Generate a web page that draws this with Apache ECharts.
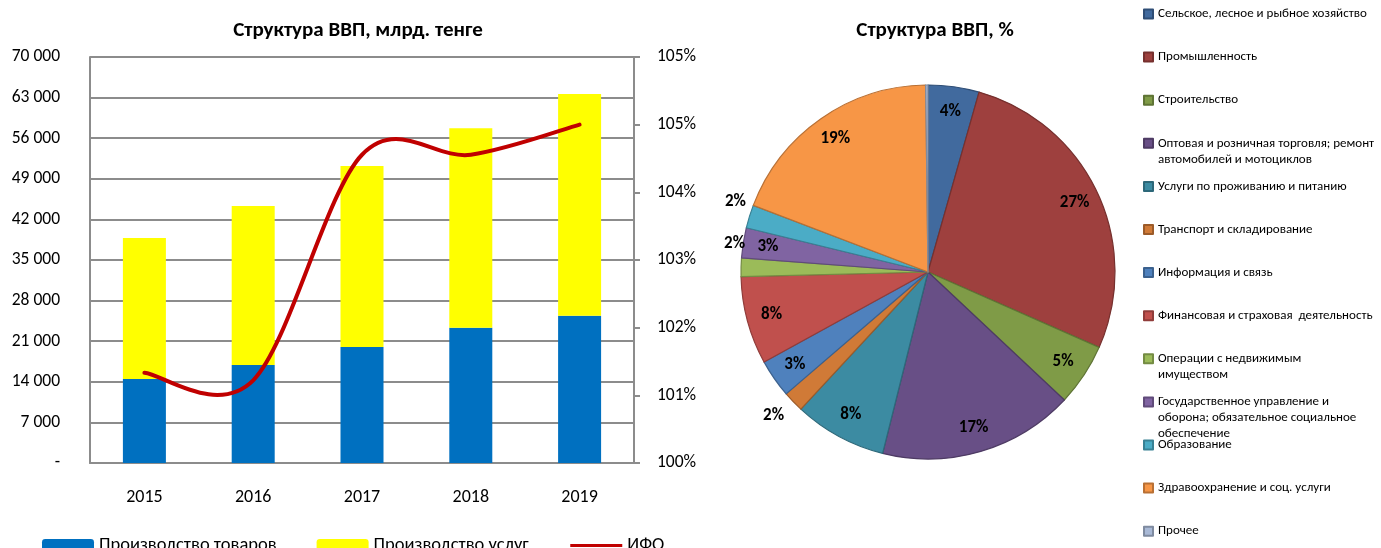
<!DOCTYPE html>
<html lang="ru">
<head>
    <meta charset="UTF-8">
    <title>Структура ВВП</title>
    <script src="https://cdn.jsdelivr.net/npm/echarts@6/dist/echarts.min.js"></script>
    <style>
        html, body { margin: 0; padding: 0; background: #fff; }
        #chart { width: 1381px; height: 548px; }
    </style>
</head>
<body>
    <div id="chart"></div>
    <script>
        // данные: левая диаграмма
        const years = ['2015', '2016', '2017', '2018', '2019'];
        const goods = [14500, 16900, 20000, 23300, 25400];      // Производство товаров
        const services = [24300, 27400, 31200, 34400, 38200];   // Производство услуг
        const ifo = [101.2, 101.1, 104.1, 104.1, 104.5];        // ИФО, %

        // данные: структура ВВП, %
        const sectors = [
            'Сельское, лесное и рыбное хозяйство',
            'Промышленность',
            'Строительство',
            'Оптовая и розничная торговля; ремонт\nавтомобилей и мотоциклов',
            'Услуги по проживанию и питанию',
            'Транспорт и складирование',
            'Информация и связь',
            'Финансовая и страховая  деятельность',
            'Операции с недвижимым\nимуществом',
            'Государственное управление и\nоборона; обязательное социальное\nобеспечение',
            'Образование',
            'Здравоохранение и соц. услуги',
            'Прочее'
        ];
        const shares = [4.4, 27.2, 5.4, 16.9, 8.0, 1.8, 3.3, 7.6, 1.6, 2.6, 2.0, 19.0, 0.2];

        // оформление
        const pieColors = ['#416A9E', '#9E403E', '#7F9B47', '#684F86', '#3C8BA2', '#D07A37',
                           '#4F81BD', '#C0504D', '#9BBB59', '#8064A2', '#4BACC6', '#F79646', '#A9B9D6'];
        const pieBorders = ['#2F4E76', '#76302E', '#5F7435', '#4E3B64', '#2D6879', '#9C5B29',
                            '#3B618E', '#903C3A', '#748C43', '#604B7A', '#388194', '#B97034', '#7F8BA0'];
        const outsideLabel = [5, 8, 10];   // мелкие сектора с подписью снаружи
        // сдвиг наружных подписей, как их разложил Excel
        const labelShift = { 5: [3, 7], 8: [19, -23], 10: [11, -12] };
        const FONT = 'Carlito, "Liberation Sans", Arial, sans-serif';

        const chart = echarts.init(document.getElementById('chart'));

        function fmtThousands(v) {
            if (v === 0) return '-';
            return String(v).replace(/\B(?=(\d{3})+(?!\d))/g, ' ');
        }

        // сглаженная линия как в Excel (Catmull-Rom, 1/6)
        function renderIfo(params, api) {
            if (params.dataIndex !== 0) return null;
            const pts = ifo.map((v, i) => api.coord([i, v]));
            const n = pts.length;
            let d = 'M' + pts[0][0] + ',' + pts[0][1];
            for (let i = 0; i < n - 1; i++) {
                const p0 = pts[Math.max(i - 1, 0)], p1 = pts[i], p2 = pts[i + 1], p3 = pts[Math.min(i + 2, n - 1)];
                const c1x = p1[0] + (p2[0] - p0[0]) / 6, c1y = p1[1] + (p2[1] - p0[1]) / 6;
                const c2x = p2[0] - (p3[0] - p1[0]) / 6, c2y = p2[1] - (p3[1] - p1[1]) / 6;
                d += ' C' + c1x + ',' + c1y + ' ' + c2x + ',' + c2y + ' ' + p2[0] + ',' + p2[1];
            }
            return {
                type: 'path',
                shape: { pathData: d },
                style: { fill: 'none', stroke: '#C00000', lineWidth: 4, lineCap: 'round', lineJoin: 'round' }
            };
        }

        // отдельная легенда на каждый сектор (как в Excel: значок на уровне первой строки)
        const pieLegends = sectors.map((name, i) => {
            const lines = name.split('\n').length;
            const lh = 16;
            const c = 14 + i * 43.1;
            return {
                orient: 'vertical',
                left: 1143,
                top: c - lh * (2 * lines - 1) / 2,
                padding: 0,
                itemWidth: 9,
                itemHeight: 9,
                icon: 'rect',
                selectedMode: false,
                data: [name],
                formatter: nm => '\n'.repeat(lines - 1) + nm,
                textStyle: { fontFamily: FONT, fontSize: 13, color: '#000', lineHeight: lh }
            };
        });

        chart.setOption({
            animation: false,
            textStyle: { fontFamily: FONT },
            title: [
                {
                    text: 'Структура ВВП, млрд. тенге',
                    left: 353, top: 15, textAlign: 'center',
                    textStyle: { fontFamily: FONT, fontSize: 21, fontWeight: 'bold', color: '#000' }
                },
                {
                    text: 'Структура ВВП, %',
                    left: 930, top: 15, textAlign: 'center',
                    textStyle: { fontFamily: FONT, fontSize: 21, fontWeight: 'bold', color: '#000' }
                }
            ],
            legend: [{
                left: 42,
                top: 536,
                padding: 0,
                itemWidth: 52,
                itemHeight: 13,
                itemGap: 40,
                selectedMode: false,
                lineStyle: { width: 3 },
                data: [
                    'Производство товаров',
                    'Производство услуг',
                    { name: 'ИФО', itemStyle: { opacity: 0 } }
                ],
                textStyle: { fontFamily: FONT, fontSize: 18.5, color: '#000' }
            }].concat(pieLegends),
            grid: { left: 90, right: 747, top: 57, bottom: 85 },
            xAxis: {
                type: 'category',
                data: years,
                axisLine: { lineStyle: { color: '#8c8c8c', width: 2 } },
                axisTick: { show: false },
                axisLabel: { color: '#000', fontSize: 18, margin: 25, fontFamily: FONT }
            },
            yAxis: [
                {
                    type: 'value',
                    min: 0, max: 70000, interval: 7000,
                    axisLine: { show: true, lineStyle: { color: '#8c8c8c', width: 2 } },
                    axisTick: { show: false },
                    splitLine: { lineStyle: { color: '#8c8c8c', width: 2 } },
                    axisLabel: { color: '#000', fontSize: 17.5, margin: 30, fontFamily: FONT, formatter: fmtThousands }
                },
                {
                    type: 'value',
                    position: 'right',
                    min: 100, max: 105.4, interval: 0.9,
                    axisLine: { show: true, lineStyle: { color: '#8c8c8c', width: 2 } },
                    axisTick: { show: true, length: 6, lineStyle: { color: '#8c8c8c', width: 2 } },
                    splitLine: { show: false },
                    axisLabel: {
                        color: '#000', fontSize: 17.5, margin: 23, fontFamily: FONT,
                        formatter: v => Math.round(Math.round(v * 10) / 10) + '%'
                    }
                }
            ],
            series: [
                {
                    name: 'Производство товаров',
                    type: 'bar',
                    stack: 'vvp',
                    barWidth: 43,
                    itemStyle: { color: '#0070C0' },
                    data: goods
                },
                {
                    name: 'Производство услуг',
                    type: 'bar',
                    stack: 'vvp',
                    barWidth: 43,
                    itemStyle: { color: '#FFFF00' },
                    data: services
                },
                {
                    // только для значка в легенде
                    name: 'ИФО',
                    type: 'line',
                    yAxisIndex: 1,
                    symbol: 'none',
                    lineStyle: { color: '#C00000', width: 3 },
                    itemStyle: { color: '#C00000' },
                    data: []
                },
                {
                    type: 'custom',
                    yAxisIndex: 1,
                    renderItem: renderIfo,
                    silent: true,
                    z: 3,
                    data: ifo.map((v, i) => [i, v])
                },
                {
                    // сектора
                    type: 'pie',
                    center: [928, 272],
                    radius: 187,
                    startAngle: 90,
                    label: { show: false },
                    labelLine: { show: false },
                    data: sectors.map((name, i) => ({
                        name: name,
                        value: shares[i],
                        itemStyle: { color: pieColors[i], borderColor: pieBorders[i], borderWidth: 1.2 }
                    }))
                },
                {
                    // подписи долей
                    type: 'pie',
                    center: [928, 272],
                    radius: [131, 187],
                    startAngle: 90,
                    silent: true,
                    legendHoverLink: false,
                    avoidLabelOverlap: false,
                    itemStyle: { color: 'rgba(0,0,0,0)' },
                    labelLine: { show: false, length: 10, length2: 0 },
                    labelLayout: p => {
                        const s = labelShift[p.dataIndex];
                        return s ? { dx: s[0], dy: s[1] } : {};
                    },
                    data: sectors.map((name, i) => ({
                        name: name,
                        value: shares[i],
                        label: {
                            show: i !== 12,
                            position: outsideLabel.includes(i) ? 'outside' : 'inside',
                            formatter: p => Math.round(p.value) + '%',
                            color: '#000',
                            fontFamily: FONT,
                            fontSize: 17,
                            fontWeight: 'bold'
                        }
                    }))
                }
            ]
        });
    </script>
</body>
</html>
